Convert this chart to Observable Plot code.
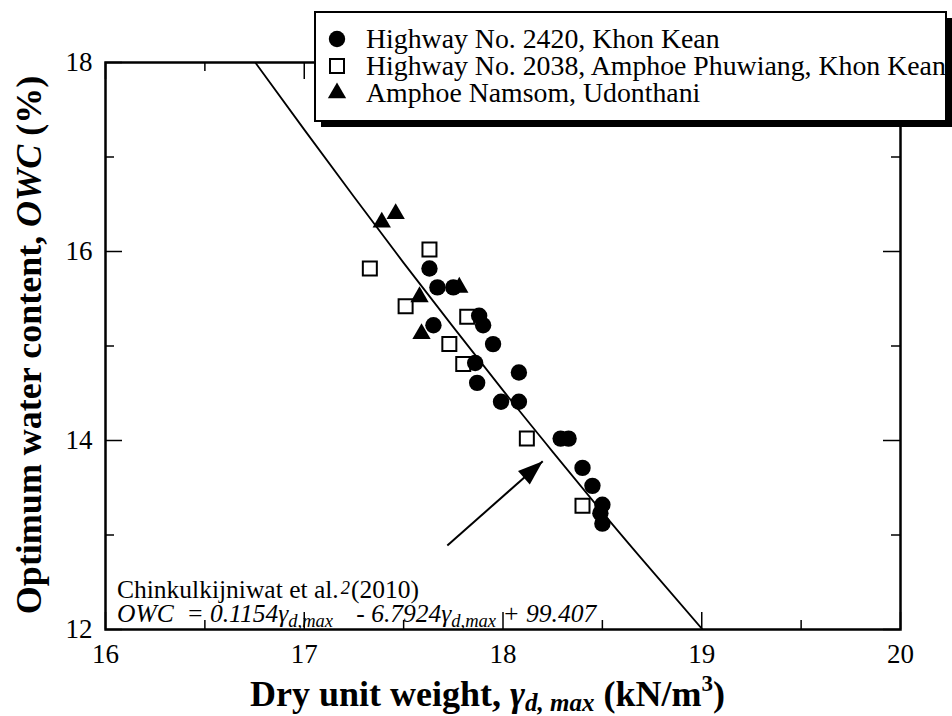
<!DOCTYPE html>
<html>
<head>
<meta charset="utf-8">
<script src="https://cdn.jsdelivr.net/npm/d3@7"></script>
<script src="https://cdn.jsdelivr.net/npm/@observablehq/plot@0.6"></script>
<style>
  html, body { margin: 0; padding: 0; background: white; }
  svg { display: block; }
</style>
</head>
<body>
<div id="chart"></div>
<script>
// ---- data ----
const hwy2420X = [17.63, 17.67, 17.75, 17.88, 17.90, 17.65, 17.95, 17.86, 18.08, 17.87, 17.99, 18.08, 18.29, 18.33, 18.40, 18.45, 18.50, 18.49, 18.50];
const hwy2420Y = [15.82, 15.62, 15.62, 15.32, 15.22, 15.22, 15.02, 14.82, 14.72, 14.61, 14.41, 14.41, 14.02, 14.02, 13.71, 13.52, 13.32, 13.23, 13.12];
const hwy2038X = [17.63, 17.33, 17.51, 17.82, 17.73, 17.80, 18.12, 18.40];
const hwy2038Y = [16.02, 15.82, 15.42, 15.31, 15.02, 14.81, 14.02, 13.31];
const namsomX = [17.39, 17.46, 17.78, 17.58, 17.59];
const namsomY = [16.31, 16.40, 15.62, 15.52, 15.13];

// Chinkulkijniwat et al. (2010) curve
const curveGamma = [16.75, 17.0, 17.25, 17.5, 17.75, 18.0, 18.25, 18.5, 18.75, 19.0];
const curveOwc   = [18.01, 17.29, 16.58, 15.88, 15.20, 14.53, 13.88, 13.24, 12.62, 12.01];

const arrowStart = [17.72, 12.89];
const arrowTip   = [18.20, 13.78];

const xMajor = [16, 17, 18, 19, 20];
const xMinor = [16.5, 17.5, 18.5, 19.5];
const yMajor = [12, 14, 16, 18];
const yMinor = [13, 15, 17];

const legendLabels = [
  "Highway No. 2420, Khon Kean",
  "Highway No. 2038, Amphoe Phuwiang, Khon Kean",
  "Amphoe Namsom, Udonthani"
];

// ---- build ----
const W = 952, H = 716;
const mL = 105, mR = 52, mT = 62, mB = 87;
const pw = W - mL - mR, ph = H - mT - mB;
const serif = "'Liberation Serif', 'Times New Roman', Times, serif";

const pts = (xs, ys) => xs.map((x, i) => ({x, y: ys[i]}));
const curve = pts(curveGamma, curveOwc);

// arrowhead symbol: tip at origin, pointing along the arrow direction
const headAngle = 49 * Math.PI / 180;
const arrowHead = {
  draw(ctx) {
    const L = 25, w = 18;
    const ux = Math.sin(headAngle), uy = -Math.cos(headAngle);
    const px = Math.cos(headAngle), py = Math.sin(headAngle);
    const bx = -L * ux, by = -L * uy;
    ctx.moveTo(0, 0);
    ctx.lineTo(bx + px * w / 2, by + py * w / 2);
    ctx.lineTo(bx - px * w / 2, by - py * w / 2);
    ctx.closePath();
  }
};

const plot = Plot.plot({
  width: W, height: H,
  marginLeft: mL, marginRight: mR, marginTop: mT, marginBottom: mB,
  style: {fontFamily: serif, fontSize: "27px", color: "black", background: "white", overflow: "visible"},
  x: {domain: [16, 20], label: null},
  y: {domain: [12, 18], label: null},
  marks: [
    // ticks pointing inward
    Plot.tickX(xMajor, {x: d => d, insetTop: ph - 17, stroke: "black", strokeWidth: 1.5}),
    Plot.tickX(xMajor, {x: d => d, insetBottom: ph - 17, stroke: "black", strokeWidth: 1.5}),
    Plot.tickX(xMinor, {x: d => d, insetTop: ph - 9, stroke: "black", strokeWidth: 1.5}),
    Plot.tickX(xMinor, {x: d => d, insetBottom: ph - 9, stroke: "black", strokeWidth: 1.5}),
    Plot.tickY(yMajor, {y: d => d, insetRight: pw - 17, stroke: "black", strokeWidth: 1.5}),
    Plot.tickY(yMajor, {y: d => d, insetLeft: pw - 17, stroke: "black", strokeWidth: 1.5}),
    Plot.tickY(yMinor, {y: d => d, insetRight: pw - 9, stroke: "black", strokeWidth: 1.5}),
    Plot.tickY(yMinor, {y: d => d, insetLeft: pw - 9, stroke: "black", strokeWidth: 1.5}),
    Plot.axisX(xMajor, {tickSize: 0, tickPadding: 14, label: null, fontSize: 27, fill: "black", tickFormat: d => String(d)}),
    Plot.axisY(yMajor, {tickSize: 0, tickPadding: 13, label: null, fontSize: 27, fill: "black", tickFormat: d => String(d)}),
    // fitted curve
    Plot.line(curve, {x: "x", y: "y", curve: "natural", stroke: "black", strokeWidth: 1.8, clip: true}),
    // arrow
    Plot.link([{x1: arrowStart[0], y1: arrowStart[1], x2: arrowTip[0], y2: arrowTip[1]}],
      {x1: "x1", y1: "y1", x2: "x2", y2: "y2", stroke: "black", strokeWidth: 2}),
    Plot.dot([{x: arrowTip[0], y: arrowTip[1]}], {x: "x", y: "y", symbol: arrowHead, fill: "black", stroke: "none"}),
    // data
    Plot.dot(pts(hwy2038X, hwy2038Y), {x: "x", y: "y", symbol: "square", r: 7.9, fill: "white", stroke: "black", strokeWidth: 2}),
    Plot.dot(pts(hwy2420X, hwy2420Y), {x: "x", y: "y", symbol: "circle", r: 8.2, fill: "black", stroke: "none"}),
    Plot.dot(pts(namsomX, namsomY), {x: "x", y: "y", symbol: "triangle", r: 6.8, fill: "black", stroke: "none"}),
    Plot.frame({stroke: "black", strokeWidth: 2.5})
  ]
});

document.getElementById("chart").appendChild(plot);
const svg = d3.select(plot);

// ---- legend ----
const lg = svg.append("g").attr("font-family", serif).attr("text-anchor", "start");
lg.append("rect").attr("x", 321).attr("y", 18).attr("width", 631).attr("height", 109).attr("fill", "black");
lg.append("rect").attr("x", 315).attr("y", 12).attr("width", 631).attr("height", 109)
  .attr("fill", "white").attr("stroke", "black").attr("stroke-width", 2);
const legendY = [39, 66, 93];
const legendSym = [
  {type: d3.symbolCircle, size: Math.PI * 8.2 * 8.2, fill: "black", stroke: "none"},
  {type: d3.symbolSquare, size: Math.PI * 7.9 * 7.9, fill: "white", stroke: "black"},
  {type: d3.symbolTriangle, size: Math.PI * 6.8 * 6.8, fill: "black", stroke: "none"}
];
legendLabels.forEach((t, i) => {
  const s = legendSym[i];
  lg.append("path").attr("d", d3.symbol(s.type, s.size)())
    .attr("transform", `translate(337,${legendY[i]})`)
    .attr("fill", s.fill).attr("stroke", s.stroke).attr("stroke-width", 2);
  lg.append("text").attr("x", 366).attr("y", legendY[i] + 9).attr("font-size", 27.8).attr("fill", "black").text(t);
});

// ---- annotation ----
const an = svg.append("g").attr("font-family", serif).attr("font-size", 25.5).attr("fill", "black").attr("text-anchor", "start");
const line1 = an.append("text").attr("x", 117).attr("y", 598).text("Chinkulkijniwat et al.");
const eq = an.append("text").attr("x", 117).attr("y", 622).attr("font-style", "italic");
eq.append("tspan").text("OWC  = 0.1154γ");
const sub1 = eq.append("tspan").attr("font-size", 18.5).attr("dy", 5).text("d,max");
const after1 = eq.append("tspan").attr("dy", -5).text(" - 6.7924γ");
eq.append("tspan").attr("font-size", 18.5).attr("dy", 5).text("d,max");
eq.append("tspan").attr("dy", -5).text(" + 99.407");

// superscript "2" after the first subscript, sitting in the gap after "al." as in the reference
const subNode = sub1.node();
const subEnd = subNode.getEndPositionOfChar(subNode.getNumberOfChars() - 1).x;
const line1End = 117 + line1.node().getComputedTextLength();
const supX = Math.max(subEnd + 1, line1End + 2);
const sup = an.append("text").attr("x", supX).attr("y", 594).attr("font-size", 18.5).attr("font-style", "italic").text("2");
const supEnd = supX + sup.node().getComputedTextLength();
after1.attr("dx", supEnd - subEnd);
an.append("text").attr("x", supEnd + 1).attr("y", 598).text("(2010)");

// ---- axis titles ----
const xt = svg.append("text").attr("x", 250).attr("y", 706).attr("text-anchor", "start")
  .attr("font-family", serif).attr("font-size", 36).attr("font-weight", "bold").attr("fill", "black");
xt.append("tspan").text("Dry unit weight, ");
xt.append("tspan").attr("font-style", "italic").text("γ");
xt.append("tspan").attr("font-style", "italic").attr("font-size", 25).attr("dy", 5).text("d, max");
xt.append("tspan").attr("dy", -5).text(" (kN/m");
xt.append("tspan").attr("font-size", 23).attr("dy", -15).text("3");
xt.append("tspan").attr("dy", 15).text(")");

const yt = svg.append("text").attr("transform", "translate(41,345) rotate(-90)").attr("text-anchor", "middle")
  .attr("font-family", serif).attr("font-size", 36).attr("font-weight", "bold").attr("fill", "black");
yt.append("tspan").text("Optimum water content, ");
yt.append("tspan").attr("font-style", "italic").text("OWC");
yt.append("tspan").text(" (%)");
</script>
</body>
</html>
